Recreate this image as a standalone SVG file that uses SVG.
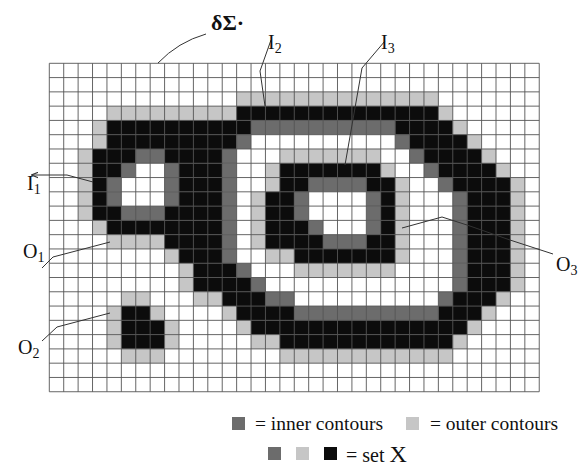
<svg xmlns="http://www.w3.org/2000/svg" width="588" height="469" viewBox="0 0 588 469">
<style>
.L{fill:#c6c6c6}.D{fill:#6c6c6c}.B{fill:#0c0c0c}
.grid{fill:none;stroke:#555;stroke-width:0.9}
.ptr{fill:none;stroke:#333;stroke-width:1}
.lab{font-family:"Liberation Serif","Times New Roman",serif;fill:#111}
</style>
<defs>
<marker id="ah" viewBox="0 0 10 10" refX="9" refY="5" markerWidth="7" markerHeight="7" orient="auto-start-reverse" markerUnits="userSpaceOnUse"><path d="M0 1L10 5L0 9" fill="none" stroke="#333" stroke-width="1.5"/></marker>
</defs>
<rect width="588" height="469" fill="#fff"/>
<g id="grid" transform="translate(49.3 63.3) scale(14.41 14.28)">
<g id="cells">
<rect class="L" x="13" y="2" width="14" height="1"/>
<rect class="L" x="4" y="3" width="9" height="1"/><rect class="B" x="13" y="3" width="14" height="1"/><rect class="L" x="27" y="3" width="1" height="1"/>
<rect class="L" x="3" y="4" width="1" height="1"/><rect class="B" x="4" y="4" width="10" height="1"/><rect class="D" x="14" y="4" width="10" height="1"/><rect class="B" x="24" y="4" width="4" height="1"/><rect class="L" x="28" y="4" width="1" height="1"/>
<rect class="L" x="3" y="5" width="1" height="1"/><rect class="B" x="4" y="5" width="9" height="1"/><rect class="D" x="13" y="5" width="1" height="1"/><rect class="D" x="24" y="5" width="1" height="1"/><rect class="B" x="25" y="5" width="4" height="1"/><rect class="L" x="29" y="5" width="1" height="1"/>
<rect class="L" x="2" y="6" width="1" height="1"/><rect class="B" x="3" y="6" width="3" height="1"/><rect class="D" x="6" y="6" width="2" height="1"/><rect class="B" x="8" y="6" width="4" height="1"/><rect class="D" x="12" y="6" width="1" height="1"/><rect class="L" x="16" y="6" width="7" height="1"/><rect class="D" x="25" y="6" width="1" height="1"/><rect class="B" x="26" y="6" width="4" height="1"/><rect class="L" x="30" y="6" width="1" height="1"/>
<rect class="L" x="2" y="7" width="1" height="1"/><rect class="B" x="3" y="7" width="2" height="1"/><rect class="D" x="5" y="7" width="1" height="1"/><rect class="D" x="8" y="7" width="1" height="1"/><rect class="B" x="9" y="7" width="3" height="1"/><rect class="D" x="12" y="7" width="1" height="1"/><rect class="L" x="15" y="7" width="1" height="1"/><rect class="B" x="16" y="7" width="7" height="1"/><rect class="L" x="23" y="7" width="1" height="1"/><rect class="D" x="26" y="7" width="1" height="1"/><rect class="B" x="27" y="7" width="4" height="1"/><rect class="L" x="31" y="7" width="1" height="1"/>
<rect class="L" x="2" y="8" width="1" height="1"/><rect class="B" x="3" y="8" width="1" height="1"/><rect class="D" x="4" y="8" width="1" height="1"/><rect class="D" x="8" y="8" width="1" height="1"/><rect class="B" x="9" y="8" width="3" height="1"/><rect class="D" x="12" y="8" width="1" height="1"/><rect class="L" x="15" y="8" width="1" height="1"/><rect class="B" x="16" y="8" width="2" height="1"/><rect class="D" x="18" y="8" width="4" height="1"/><rect class="B" x="22" y="8" width="2" height="1"/><rect class="L" x="24" y="8" width="1" height="1"/><rect class="D" x="27" y="8" width="1" height="1"/><rect class="B" x="28" y="8" width="4" height="1"/><rect class="L" x="32" y="8" width="1" height="1"/>
<rect class="L" x="2" y="9" width="1" height="1"/><rect class="B" x="3" y="9" width="1" height="1"/><rect class="D" x="4" y="9" width="1" height="1"/><rect class="D" x="8" y="9" width="1" height="1"/><rect class="B" x="9" y="9" width="3" height="1"/><rect class="D" x="12" y="9" width="1" height="1"/><rect class="L" x="14" y="9" width="1" height="1"/><rect class="B" x="15" y="9" width="2" height="1"/><rect class="D" x="17" y="9" width="1" height="1"/><rect class="D" x="22" y="9" width="1" height="1"/><rect class="B" x="23" y="9" width="1" height="1"/><rect class="L" x="24" y="9" width="1" height="1"/><rect class="D" x="28" y="9" width="1" height="1"/><rect class="B" x="29" y="9" width="3" height="1"/><rect class="L" x="32" y="9" width="1" height="1"/>
<rect class="L" x="2" y="10" width="1" height="1"/><rect class="B" x="3" y="10" width="2" height="1"/><rect class="D" x="5" y="10" width="3" height="1"/><rect class="B" x="8" y="10" width="4" height="1"/><rect class="D" x="12" y="10" width="1" height="1"/><rect class="L" x="14" y="10" width="1" height="1"/><rect class="B" x="15" y="10" width="2" height="1"/><rect class="D" x="17" y="10" width="1" height="1"/><rect class="D" x="22" y="10" width="1" height="1"/><rect class="B" x="23" y="10" width="1" height="1"/><rect class="L" x="24" y="10" width="1" height="1"/><rect class="D" x="28" y="10" width="1" height="1"/><rect class="B" x="29" y="10" width="3" height="1"/><rect class="L" x="32" y="10" width="1" height="1"/>
<rect class="L" x="3" y="11" width="1" height="1"/><rect class="B" x="4" y="11" width="8" height="1"/><rect class="D" x="12" y="11" width="1" height="1"/><rect class="L" x="14" y="11" width="1" height="1"/><rect class="B" x="15" y="11" width="3" height="1"/><rect class="D" x="18" y="11" width="1" height="1"/><rect class="D" x="22" y="11" width="1" height="1"/><rect class="B" x="23" y="11" width="1" height="1"/><rect class="L" x="24" y="11" width="1" height="1"/><rect class="D" x="28" y="11" width="1" height="1"/><rect class="B" x="29" y="11" width="3" height="1"/><rect class="L" x="32" y="11" width="1" height="1"/>
<rect class="L" x="4" y="12" width="4" height="1"/><rect class="B" x="8" y="12" width="4" height="1"/><rect class="D" x="12" y="12" width="1" height="1"/><rect class="L" x="14" y="12" width="1" height="1"/><rect class="B" x="15" y="12" width="4" height="1"/><rect class="D" x="19" y="12" width="3" height="1"/><rect class="B" x="22" y="12" width="2" height="1"/><rect class="L" x="24" y="12" width="1" height="1"/><rect class="D" x="28" y="12" width="1" height="1"/><rect class="B" x="29" y="12" width="3" height="1"/><rect class="L" x="32" y="12" width="1" height="1"/>
<rect class="L" x="8" y="13" width="1" height="1"/><rect class="B" x="9" y="13" width="3" height="1"/><rect class="D" x="12" y="13" width="1" height="1"/><rect class="L" x="15" y="13" width="2" height="1"/><rect class="B" x="17" y="13" width="7" height="1"/><rect class="L" x="24" y="13" width="1" height="1"/><rect class="D" x="28" y="13" width="1" height="1"/><rect class="B" x="29" y="13" width="3" height="1"/><rect class="L" x="32" y="13" width="1" height="1"/>
<rect class="L" x="9" y="14" width="1" height="1"/><rect class="B" x="10" y="14" width="3" height="1"/><rect class="D" x="13" y="14" width="1" height="1"/><rect class="L" x="17" y="14" width="7" height="1"/><rect class="D" x="28" y="14" width="1" height="1"/><rect class="B" x="29" y="14" width="3" height="1"/><rect class="L" x="32" y="14" width="1" height="1"/>
<rect class="L" x="9" y="15" width="1" height="1"/><rect class="B" x="10" y="15" width="4" height="1"/><rect class="D" x="14" y="15" width="1" height="1"/><rect class="D" x="28" y="15" width="1" height="1"/><rect class="B" x="29" y="15" width="3" height="1"/><rect class="L" x="32" y="15" width="1" height="1"/>
<rect class="L" x="5" y="16" width="2" height="1"/><rect class="L" x="10" y="16" width="2" height="1"/><rect class="B" x="12" y="16" width="3" height="1"/><rect class="D" x="15" y="16" width="2" height="1"/><rect class="D" x="27" y="16" width="1" height="1"/><rect class="B" x="28" y="16" width="3" height="1"/><rect class="L" x="31" y="16" width="1" height="1"/>
<rect class="L" x="4" y="17" width="1" height="1"/><rect class="B" x="5" y="17" width="2" height="1"/><rect class="L" x="7" y="17" width="1" height="1"/><rect class="L" x="12" y="17" width="1" height="1"/><rect class="B" x="13" y="17" width="4" height="1"/><rect class="D" x="17" y="17" width="10" height="1"/><rect class="B" x="27" y="17" width="3" height="1"/><rect class="L" x="30" y="17" width="1" height="1"/>
<rect class="L" x="4" y="18" width="1" height="1"/><rect class="B" x="5" y="18" width="3" height="1"/><rect class="L" x="8" y="18" width="1" height="1"/><rect class="L" x="13" y="18" width="1" height="1"/><rect class="B" x="14" y="18" width="15" height="1"/><rect class="L" x="29" y="18" width="1" height="1"/>
<rect class="L" x="4" y="19" width="1" height="1"/><rect class="B" x="5" y="19" width="3" height="1"/><rect class="L" x="8" y="19" width="1" height="1"/><rect class="L" x="14" y="19" width="2" height="1"/><rect class="B" x="16" y="19" width="12" height="1"/><rect class="L" x="28" y="19" width="1" height="1"/>
<rect class="L" x="5" y="20" width="3" height="1"/><rect class="L" x="16" y="20" width="12" height="1"/>
</g>
<path class="grid" vector-effect="non-scaling-stroke" d="M0 0H34M0 1H34M0 2H34M0 3H34M0 4H34M0 5H34M0 6H34M0 7H34M0 8H34M0 9H34M0 10H34M0 11H34M0 12H34M0 13H34M0 14H34M0 15H34M0 16H34M0 17H34M0 18H34M0 19H34M0 20H34M0 21H34M0 22H34M0 23H34M0 0V23M1 0V23M2 0V23M3 0V23M4 0V23M5 0V23M6 0V23M7 0V23M8 0V23M9 0V23M10 0V23M11 0V23M12 0V23M13 0V23M14 0V23M15 0V23M16 0V23M17 0V23M18 0V23M19 0V23M20 0V23M21 0V23M22 0V23M23 0V23M24 0V23M25 0V23M26 0V23M27 0V23M28 0V23M29 0V23M30 0V23M31 0V23M32 0V23M33 0V23M34 0V23"/>
</g>
<g id="connectors">
<path class="ptr" d="M206 34Q178 42 158 63"/>
<path class="ptr" d="M271 40L260 71L265 106"/>
<path class="ptr" d="M385 41L362 68L345 165"/>
<path class="ptr" d="M93 182L67 175L32 175" marker-end="url(#ah)"/>
<path class="ptr" d="M110 242L53 257L42 268"/>
<path class="ptr" d="M110 313L57 327L42 341"/>
<path class="ptr" d="M553 254L510 240L467 225L442 217L402 228"/>
</g>
<g id="label-dsigma"><text class="lab" x="211" y="30" font-size="22" font-weight="bold">δΣ·</text></g>
<g id="label-I2"><text class="lab" x="268" y="49" font-size="20">I<tspan font-size="14" dy="4">2</tspan></text></g>
<g id="label-I3"><text class="lab" x="381" y="49" font-size="20">I<tspan font-size="14" dy="4">3</tspan></text></g>
<g id="label-I1"><text class="lab" x="27" y="190" font-size="20">I<tspan font-size="14" dy="4">1</tspan></text></g>
<g id="label-O1"><text class="lab" x="23" y="258" font-size="20">O<tspan font-size="14" dy="4">1</tspan></text></g>
<g id="label-O2"><text class="lab" x="18" y="354" font-size="20">O<tspan font-size="14" dy="4">2</tspan></text></g>
<g id="label-O3"><text class="lab" x="556" y="271" font-size="20">O<tspan font-size="14" dy="4">3</tspan></text></g>
<g id="legend">
<rect class="D" x="232" y="417" width="13" height="13"/>
<text class="lab" x="255" y="430" font-size="19.5">= inner contours</text>
<rect class="L" x="406" y="417" width="13" height="13"/>
<text class="lab" x="430" y="430" font-size="19.5">= outer contours</text>
<rect class="D" x="268" y="447" width="13" height="13"/>
<rect class="L" x="296" y="447" width="13" height="13"/>
<rect class="B" x="324" y="447" width="13" height="13"/>
<text class="lab" x="346" y="462" font-size="20">= set <tspan font-size="24">X</tspan></text>
</g>
</svg>
